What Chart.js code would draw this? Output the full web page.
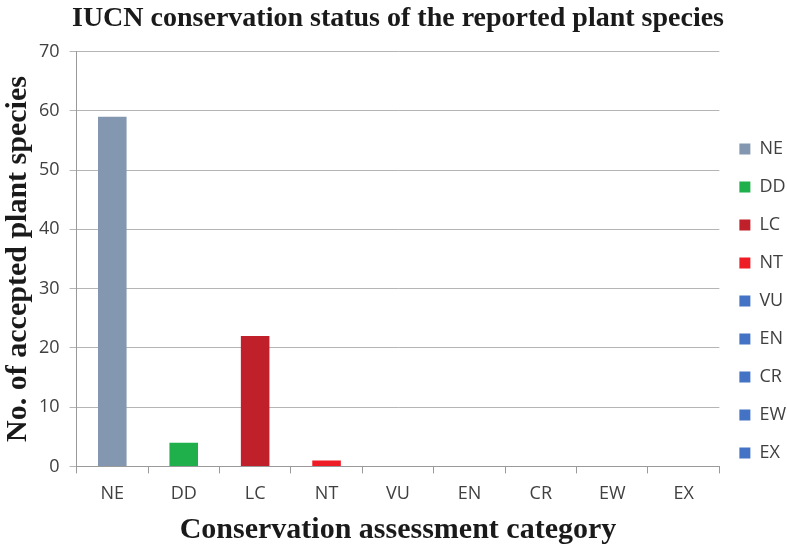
<!DOCTYPE html>
<html>
<head>
<meta charset="utf-8">
<script src="https://cdn.jsdelivr.net/npm/chart.js"></script>
<style>
  html, body { margin: 0; padding: 0; background: #fff; }
</style>
</head>
<body>
<canvas id="iucnChart" width="787" height="547"></canvas>
<script>
const categories = ['NE', 'DD', 'LC', 'NT', 'VU', 'EN', 'CR', 'EW', 'EX'];
const speciesCounts = [59, 4, 22, 1, 0, 0, 0, 0, 0];
const barColors = ['#8497b0', '#1fb04b', '#c0202a', '#ee1c25', '#4472c4', '#4472c4', '#4472c4', '#4472c4', '#4472c4'];
const yTicks = [0, 10, 20, 30, 40, 50, 60, 70];

// one dataset per category so the legend lists each status
const datasets = categories.map((cat, i) => ({
    label: cat,
    data: categories.map((_, j) => (j === i ? speciesCounts[i] : null)),
    backgroundColor: barColors[i],
    borderWidth: 0,
    barPercentage: 0.4,
    categoryPercentage: 1.0
}));

const tickFont = { family: '"Open Sans", "Noto Sans", sans-serif', size: 18 };
const serifBold = { family: '"Liberation Serif", "DejaVu Serif", serif', weight: 'bold' };

new Chart(document.getElementById('iucnChart').getContext('2d'), {
    type: 'bar',
    data: { labels: categories, datasets: datasets },
    options: {
        responsive: false,
        animation: false,
        layout: { padding: { top: 0, right: -9, bottom: 0, left: 0 } },
        plugins: {
            title: {
                display: true,
                text: 'IUCN conservation status of the reported plant species',
                color: '#1a1a1a',
                font: { ...serifBold, size: 28 },
                padding: { top: 2, bottom: 16 }
            },
            legend: {
                position: 'right',
                align: 'center',
                title: { display: true, text: ' ', font: { size: 10 }, padding: { top: 43, bottom: 0 } },
                labels: {
                    boxWidth: 11,
                    boxHeight: 11,
                    padding: 20,
                    color: '#404040',
                    font: tickFont
                }
            },
            tooltip: { enabled: false }
        },
        scales: {
            x: {
                stacked: true,
                grid: { display: true, drawOnChartArea: false, drawTicks: true, tickLength: 7, color: '#9a9a9a', offset: true },
                border: { color: '#9a9a9a' },
                ticks: { color: '#404040', font: tickFont, padding: 10 },
                title: {
                    display: true,
                    text: 'Conservation assessment category',
                    color: '#1a1a1a',
                    font: { ...serifBold, size: 30, lineHeight: 1 },
                    padding: { top: 0, bottom: 2 }
                }
            },
            y: {
                stacked: true,
                min: 0,
                max: 70,
                afterBuildTicks: axis => { axis.ticks = yTicks.map(v => ({ value: v })); },
                grid: { color: '#b5b5b5', tickLength: 7 },
                border: { color: '#9a9a9a' },
                ticks: { color: '#404040', font: tickFont, padding: 10 },
                title: {
                    display: true,
                    text: 'No. of accepted plant species',
                    color: '#1a1a1a',
                    font: { ...serifBold, size: 30, lineHeight: 1 },
                    padding: { top: 3, bottom: -4 }
                }
            }
        }
    }
});
</script>
</body>
</html>
